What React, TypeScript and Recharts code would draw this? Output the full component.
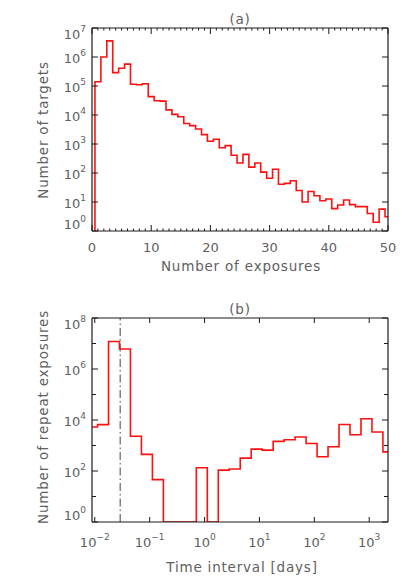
import { LineChart, Line, XAxis, YAxis, ReferenceLine } from "recharts";

// (a) targets per number of exposures
const EXPOSURES = [
  0, 1, 2, 3, 4, 5, 6, 7, 8, 9, 10, 11, 12, 13, 14, 15, 16, 17, 18, 19, 20, 21, 22, 23, 24, 25,
  26, 27, 28, 29, 30, 31, 32, 33, 34, 35, 36, 37, 38, 39, 40, 41, 42, 43, 44, 45, 46, 47, 48, 49, 50,
];
const TARGETS = [
  0.1, 1.4e5, 1.0e6, 3.6e6, 2.9e5, 4.1e5, 5.7e5, 1.15e5, 1.1e5, 1.2e5, 4.3e4, 3.1e4, 3.0e4, 1.5e4,
  1.05e4, 8.7e3, 5.1e3, 4.3e3, 3.3e3, 2.1e3, 1.24e3, 1.45e3, 740, 880, 410, 220, 440, 160, 220, 107,
  66, 134, 41, 44, 54, 25, 10, 23, 16.5, 11, 12.7, 5.9, 7.9, 11.7, 8.1, 6.9, 6.9, 4.0, 2.0, 5.7, 3.1,
];

// (b) repeat exposures per time interval (days)
const INTERVAL_DAYS = [
  0.00891, 0.01413, 0.02239, 0.03548, 0.05623, 0.08913, 0.1413, 0.2239, 0.3548, 0.5623, 0.8913,
  1.413, 2.239, 3.548, 5.623, 8.913, 14.13, 22.39, 35.48, 56.23, 89.13, 141.3, 223.9, 354.8, 562.3,
  891.3, 1413, 2239,
];
const REPEATS = [
  5300, 6600, 1.2e7, 6.1e6, 2300, 450, 46, 1, 1, 1, 135, 1, 108, 120, 320, 720, 660, 1450, 1680,
  2150, 1200, 360, 890, 6700, 2650, 1.12e4, 3400, 560,
];
const CADENCE_DAYS = 0.029;

const A_MAJOR = [0, 10, 20, 30, 40, 50];
const A_X_TICKS = Array.from({ length: 51 }, (_, i) => i);
const A_Y_TICKS = [1, 1e1, 1e2, 1e3, 1e4, 1e5, 1e6, 1e7];
const B_X_TICKS = [1e-2, 1e-1, 1, 1e1, 1e2, 1e3];
const B_Y_TICKS = [1, 1e1, 1e2, 1e3, 1e4, 1e5, 1e6, 1e7, 1e8];

const FONT = "DejaVu Sans";
const INK = "#606060";
const AXIS = "#1a1a1a";
const RED = "#ff1010";

const dataA = EXPOSURES.map((n, i) => ({ n, count: TARGETS[i] }));
const dataB = INTERVAL_DAYS.map((t, i) => ({ t, count: REPEATS[i] }));

function Pow({ x, y, exp, anchor }: { x: number; y: number; exp: number; anchor: string }) {
  return (
    <text x={x} y={y} textAnchor={anchor} fontFamily={FONT} fontSize={13} fill={INK}>
      10
      <tspan dy={-7} fontSize={9}>
        {exp < 0 ? `\u2212${-exp}` : exp}
      </tspan>
    </text>
  );
}

// inward y ticks, labels on the left side only
const yTick = (side: "l" | "r", every: number, lo: number, hi: number) => (p: any) => {
  const v = p.payload.value;
  const e = Math.round(Math.log10(v));
  const major = e % every === 0;
  const len = major ? 6 : 4;
  const shift = v === hi ? 5.5 : v === lo ? -7.5 : 0;
  return (
    <g>
      <line x1={p.x} x2={side === "l" ? p.x + len : p.x - len} y1={p.y} y2={p.y} stroke={AXIS} />
      {side === "l" && major && <Pow x={p.x - 6} y={p.y + 5.5 + shift} exp={e} anchor="end" />}
    </g>
  );
};

const xTickA = (side: "t" | "b") => (p: any) => {
  const major = A_MAJOR.includes(p.payload.value);
  const len = major ? 6 : 2.5;
  return (
    <g>
      <line x1={p.x} x2={p.x} y1={p.y} y2={side === "b" ? p.y - len : p.y + len} stroke={AXIS} />
      {side === "b" && major && (
        <text x={p.x} y={p.y + 21} textAnchor="middle" fontFamily={FONT} fontSize={13} fill={INK}>
          {p.payload.value}
        </text>
      )}
    </g>
  );
};

const xTickB = (side: "t" | "b") => (p: any) => {
  const e = Math.round(Math.log10(p.payload.value));
  return (
    <g>
      <line x1={p.x} x2={p.x} y1={p.y} y2={side === "b" ? p.y - 5 : p.y + 5} stroke={AXIS} />
      {side === "b" && <Pow x={p.x} y={p.y + 25} exp={e} anchor="middle" />}
    </g>
  );
};

const axisLine = { stroke: AXIS, strokeWidth: 1.2 };
const noMargin = { top: 0, right: 0, bottom: 0, left: 0 };
const titleStyle = { fontFamily: FONT, fontSize: 13.5, fill: INK, letterSpacing: 0.8 };

export default function App() {
  return (
    <div style={{ position: "absolute", left: 0, top: 0, width: 415, height: 581, background: "#fff" }}>
      <LineChart width={415} height={290} data={dataA} margin={noMargin}>
        <XAxis xAxisId="b" dataKey="n" type="number" domain={[0, 50]} ticks={A_X_TICKS} interval={0}
          allowDataOverflow height={59} axisLine={axisLine} tickLine={false} tickSize={0} tickMargin={0}
          tick={xTickA("b")} />
        <XAxis xAxisId="t" dataKey="n" type="number" orientation="top" domain={[0, 50]} ticks={A_X_TICKS}
          interval={0} allowDataOverflow height={28} axisLine={axisLine} tickLine={false} tickSize={0}
          tickMargin={0} tick={xTickA("t")} />
        <YAxis yAxisId="l" type="number" scale="log" domain={[1, 1e7]} ticks={A_Y_TICKS} interval={0}
          allowDataOverflow width={92} axisLine={axisLine} tickLine={false} tickSize={0} tickMargin={0}
          tick={yTick("l", 1, 1, 1e7)} />
        <YAxis yAxisId="r" orientation="right" type="number" scale="log" domain={[1, 1e7]} ticks={A_Y_TICKS}
          interval={0} allowDataOverflow width={27} axisLine={axisLine} tickLine={false} tickSize={0}
          tickMargin={0} tick={yTick("r", 1, 1, 1e7)} />
        <Line xAxisId="b" yAxisId="l" type="step" dataKey="count" stroke={RED} strokeWidth={1.6}
          dot={false} activeDot={false} isAnimationActive={false} />
      </LineChart>

      <LineChart width={415} height={291} data={dataB} margin={noMargin}>
        <XAxis xAxisId="b" dataKey="t" type="number" scale="log" domain={[0.0089, 2200]} ticks={B_X_TICKS}
          interval={0} allowDataOverflow height={59} axisLine={axisLine} tickLine={false} tickSize={0}
          tickMargin={0} tick={xTickB("b")} />
        <XAxis xAxisId="t" dataKey="t" type="number" scale="log" orientation="top" domain={[0.0089, 2200]}
          ticks={B_X_TICKS} interval={0} allowDataOverflow height={28} axisLine={axisLine} tickLine={false}
          tickSize={0} tickMargin={0} tick={xTickB("t")} />
        <YAxis yAxisId="l" type="number" scale="log" domain={[1, 1e8]} ticks={B_Y_TICKS} interval={0}
          allowDataOverflow width={92} axisLine={axisLine} tickLine={false} tickSize={0} tickMargin={0}
          tick={yTick("l", 2, 1, 1e8)} />
        <YAxis yAxisId="r" orientation="right" type="number" scale="log" domain={[1, 1e8]} ticks={B_Y_TICKS}
          interval={0} allowDataOverflow width={27} axisLine={axisLine} tickLine={false} tickSize={0}
          tickMargin={0} tick={yTick("r", 2, 1, 1e8)} />
        <ReferenceLine xAxisId="b" yAxisId="l" x={CADENCE_DAYS} stroke="#444" strokeWidth={1}
          strokeDasharray="8 3 1.5 3" />
        <Line xAxisId="b" yAxisId="l" type="step" dataKey="count" stroke={RED} strokeWidth={1.6}
          dot={false} activeDot={false} isAnimationActive={false} />
      </LineChart>

      <svg width={415} height={581} style={{ position: "absolute", left: 0, top: 0, pointerEvents: "none" }}>
        <text x={240} y={24} textAnchor="middle" {...titleStyle}>(a)</text>
        <text x={241} y={271} textAnchor="middle" {...titleStyle}>Number of exposures</text>
        <text transform="translate(48,130) rotate(-90)" textAnchor="middle" {...titleStyle}>
          Number of targets
        </text>
        <text x={240} y={314} textAnchor="middle" {...titleStyle}>(b)</text>
        <text x={242} y={572} textAnchor="middle" {...titleStyle}>Time interval [days]</text>
        <text transform="translate(48,417) rotate(-90)" textAnchor="middle" {...titleStyle}>
          Number of repeat exposures
        </text>
      </svg>
    </div>
  );
}
